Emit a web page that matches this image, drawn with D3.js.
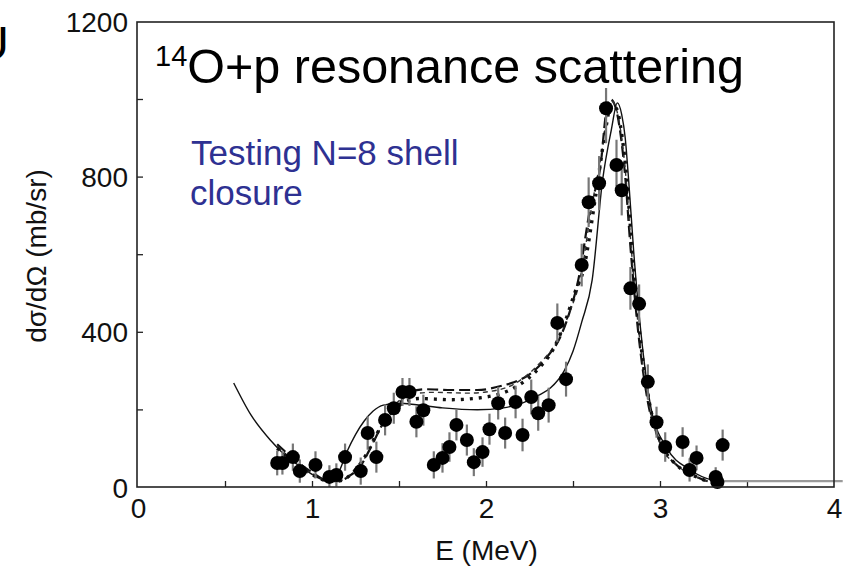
<!DOCTYPE html>
<html><head><meta charset="utf-8">
<script src="https://cdn.jsdelivr.net/npm/d3@7"></script>
<style>
body{margin:0;background:#fff}
svg{display:block}
text{font-family:"Liberation Sans",Arial,Helvetica,sans-serif}
</style>
</head><body>
<svg id="c" width="850" height="566"></svg>
<script>
// ---- data ----
const xTickLabels = [0, 1, 2, 3, 4];
const xMinorTicks = [0.5, 1, 1.5, 2, 2.5, 3, 3.5];
const yTickLabels = [0, 400, 800, 1200];
const yMinorTicks = [200, 400, 600, 800, 1000];

const pointE   = [0.80,0.83,0.89,0.93,1.02,1.10,1.14,1.19,1.28,1.32,1.37,1.42,1.47,1.52,1.56,1.60,1.64,1.70,1.75,1.79,1.83,1.89,1.93,1.98,2.02,2.07,2.11,2.17,2.21,2.26,2.30,2.36,2.41,2.46,2.55,2.59,2.65,2.69,2.75,2.78,2.83,2.88,2.93,2.98,3.03,3.13,3.17,3.21,3.32,3.33,3.36];
const pointV   = [62,62,77,41,57,26,31,77,41,139,77,173,203,245,245,168,198,57,75,103,160,121,64,90,149,216,139,219,134,232,190,211,423,278,572,734,783,976,830,765,512,472,271,167,103,116,44,75,26,13,108];
const pointErr = [32,30,35,30,35,30,30,35,35,43,40,40,40,36,36,40,40,35,38,38,40,40,36,38,40,42,40,42,42,45,45,45,50,45,55,64,70,90,65,65,55,50,45,40,38,38,30,32,25,20,40];

const fitSolid = [[0.55,268],[0.65,185],[0.76,121],[0.85,80],[0.95,48],[1.03,25],[1.1,15],[1.15,35],[1.2,90],[1.25,135],[1.3,170],[1.35,195],[1.41,211],[1.5,216],[1.6,212],[1.75,204],[1.95,199],[2.1,204],[2.2,215],[2.3,236],[2.37,255],[2.45,300],[2.5,350],[2.55,425],[2.61,533],[2.67,791],[2.72,920],[2.755,990],[2.78,960],[2.8,900],[2.82,790],[2.85,600],[2.89,400],[2.95,200],[3.04,100],[3.17,45],[3.3,18],[3.35,15]];
const fitDashed = [[0.8,110],[0.9,70],[1.0,38],[1.08,18],[1.15,15],[1.22,30],[1.28,55],[1.33,95],[1.41,165],[1.49,206],[1.55,242],[1.65,252],[1.8,250],[1.95,250],[2.1,262],[2.16,270],[2.25,290],[2.35,335],[2.42,380],[2.48,450],[2.53,533],[2.6,721],[2.66,835],[2.69,964],[2.715,1000],[2.74,985],[2.77,920],[2.8,800],[2.83,620],[2.87,420],[2.93,220],[3.0,115],[3.1,55],[3.2,28],[3.3,12],[3.35,10]];
const fitDotted = [[0.8,100],[0.9,62],[1.0,32],[1.1,15],[1.16,16],[1.23,35],[1.3,75],[1.37,135],[1.45,190],[1.53,218],[1.62,228],[1.8,225],[2.0,232],[2.16,255],[2.31,309],[2.38,350],[2.45,420],[2.51,500],[2.56,560],[2.63,750],[2.68,900],[2.72,985],[2.75,975],[2.78,910],[2.81,790],[2.84,610],[2.88,410],[2.94,215],[3.01,110],[3.1,55],[3.2,28],[3.3,12],[3.35,10]];
const fitShortDash = [[0.8,105],[0.9,66],[1.0,35],[1.09,16],[1.15,15],[1.22,32],[1.29,65],[1.35,115],[1.43,180],[1.5,222],[1.58,240],[1.7,244],[1.9,242],[2.0,245],[2.16,265],[2.3,315],[2.4,370],[2.48,450],[2.54,533],[2.61,730],[2.665,860],[2.7,970],[2.72,995],[2.745,980],[2.775,915],[2.805,795],[2.835,615],[2.875,415],[2.935,218],[3.0,112],[3.1,55],[3.2,28],[3.3,12],[3.35,10]];
const fitTail = [[3.35,15],[4.05,15]];

// ---- layout ----
const svg = d3.select("#c");
const x = d3.scaleLinear().domain([0, 4]).range([138, 834]);
const y = d3.scaleLinear().domain([0, 1200]).range([487, 21.4]);

svg.append("rect").attr("width", 850).attr("height", 566).attr("fill", "#fff");

// partial letter at the left edge (cut off in the original slide)
svg.append("text").attr("x", 9).attr("y", 60).attr("text-anchor", "end")
  .attr("font-size", 48).attr("fill", "#000").text("U");

// ticks (inward)
svg.append("g").attr("transform", "translate(0,487)")
  .call(d3.axisBottom(x).tickValues(xMinorTicks).tickSize(-6).tickFormat(""))
  .call(g => g.select(".domain").remove())
  .call(g => g.selectAll("line").attr("stroke", "#222").attr("stroke-width", 1.3));
svg.append("g").attr("transform", "translate(137,0)")
  .call(d3.axisLeft(y).tickValues(yMinorTicks).tickSize(-6).tickFormat(""))
  .call(g => g.select(".domain").remove())
  .call(g => g.selectAll("line").attr("stroke", "#222").attr("stroke-width", 1.3));

// tick labels
svg.append("g").attr("transform", "translate(0,487)")
  .call(d3.axisBottom(x).tickValues(xTickLabels).tickSize(0).tickPadding(11).tickFormat(d3.format("d")))
  .call(g => g.select(".domain").remove())
  .call(g => g.selectAll("text").attr("font-size", 28).attr("fill", "#111")
        .attr("font-family", '"Liberation Sans",Arial,sans-serif'));
svg.append("g").attr("transform", "translate(137,0)")
  .call(d3.axisLeft(y).tickValues(yTickLabels).tickSize(0).tickPadding(9).tickFormat(d3.format("d")))
  .call(g => g.select(".domain").remove())
  .call(g => g.selectAll("text").attr("font-size", 28).attr("fill", "#111").attr("dy", "0.36em")
        .attr("font-family", '"Liberation Sans",Arial,sans-serif'));

// axis titles
svg.append("text").attr("x", 486.5).attr("y", 560).attr("text-anchor", "middle")
  .attr("font-size", 28).attr("fill", "#111").text("E (MeV)");
svg.append("text").attr("transform", "translate(46,256) rotate(-90)").attr("text-anchor", "middle")
  .attr("font-size", 28).attr("fill", "#111").text("dσ/dΩ (mb/sr)");

// fit curves
const line = d3.line().x(d => x(d[0])).y(d => y(d[1])).curve(d3.curveMonotoneX);
svg.append("path").datum(fitTail).attr("d", line).attr("fill", "none")
  .attr("stroke", "#9a9a9a").attr("stroke-width", 2.2);
svg.append("path").datum(fitSolid).attr("d", line).attr("fill", "none")
  .attr("stroke", "#111").attr("stroke-width", 1.4);
svg.append("path").datum(fitDashed).attr("d", line).attr("fill", "none")
  .attr("stroke", "#111").attr("stroke-width", 2.2).attr("stroke-dasharray", "11,5");
svg.append("path").datum(fitShortDash).attr("d", line).attr("fill", "none")
  .attr("stroke", "#333").attr("stroke-width", 1.4).attr("stroke-dasharray", "5,4");
svg.append("path").datum(fitDotted).attr("d", line).attr("fill", "none")
  .attr("stroke", "#111").attr("stroke-width", 3.4).attr("stroke-dasharray", "3,6");

// data points with error bars
const pts = pointE.map((e, i) => ({e, v: pointV[i], err: pointErr[i]}));
const gp = svg.append("g");
gp.selectAll("line").data(pts).join("line")
  .attr("x1", d => x(d.e)).attr("x2", d => x(d.e))
  .attr("y1", d => y(d.v + d.err)).attr("y2", d => y(Math.max(0, d.v - d.err)))
  .attr("stroke", "#777").attr("stroke-width", 2.2);
gp.selectAll("circle").data(pts).join("circle")
  .attr("cx", d => x(d.e)).attr("cy", d => y(d.v)).attr("r", 7).attr("fill", "#000");

// title box
svg.append("rect").attr("x", 138).attr("y", 23).attr("width", 695).attr("height", 65).attr("fill", "#fff");
const t = svg.append("text").attr("x", 155).attr("y", 83).attr("fill", "#000");
t.append("tspan").attr("font-size", 29).attr("dy", -17).text("14");
t.append("tspan").attr("font-size", 48.5).attr("dy", 17).text("O+p resonance scattering");

// annotation
const ann = svg.append("text").attr("fill", "#2e3192").attr("font-size", 35);
ann.append("tspan").attr("x", 191).attr("y", 165).text("Testing N=8 shell");
ann.append("tspan").attr("x", 190).attr("y", 205).text("closure");

// frame
svg.append("rect").attr("x", 137).attr("y", 22).attr("width", 697).attr("height", 465)
  .attr("fill", "none").attr("stroke", "#222").attr("stroke-width", 1.6);
</script>
</body></html>
